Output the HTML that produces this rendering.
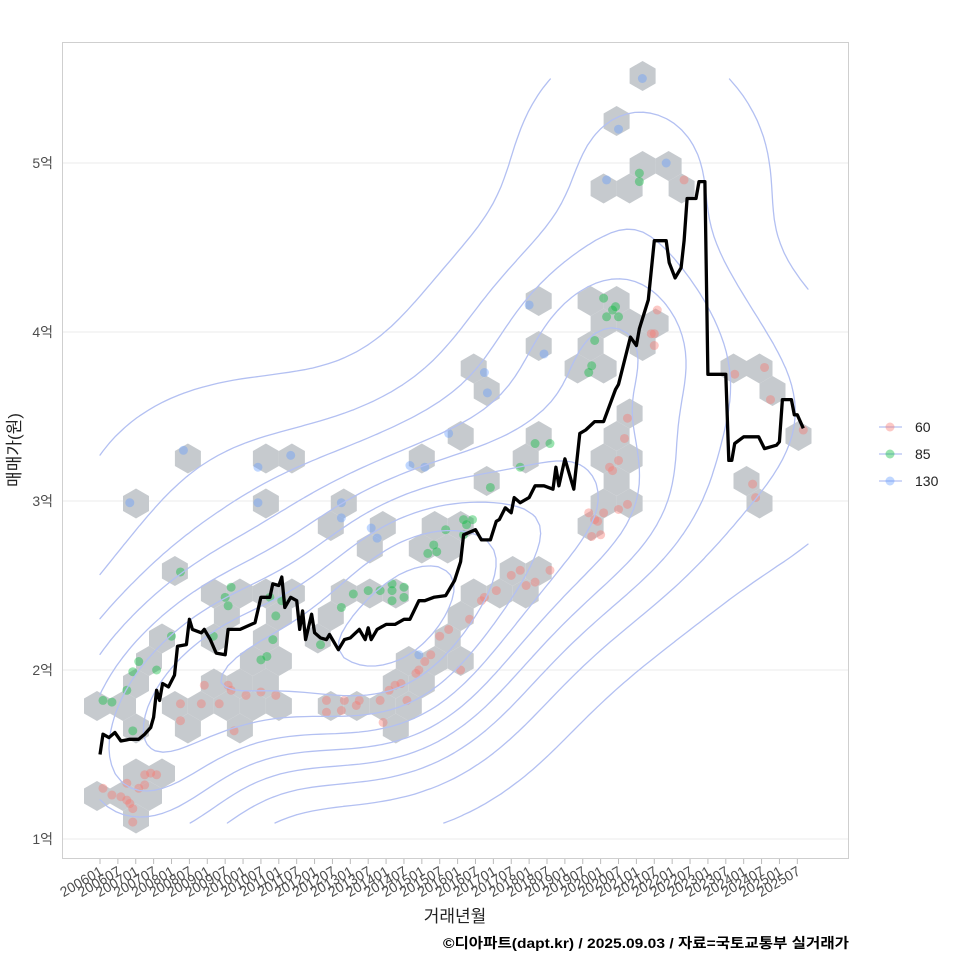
<!DOCTYPE html>
<html><head><meta charset="utf-8">
<style>
body{margin:0;background:#fff;}
svg text{font-family:"Liberation Sans","Noto Sans CJK KR",sans-serif;}
</style></head>
<body>
<svg id="chart" width="960" height="960" xmlns="http://www.w3.org/2000/svg">
<rect x="0" y="0" width="960" height="960" fill="#fff"/>
<rect x="62.5" y="42.5" width="786" height="816" fill="#fff" stroke="#cfcfcf"/>
<g id="grid"></g>
<g id="hexes"></g>
<g id="pts"></g>
<g id="contours"></g>
<g id="line"></g>
<g id="yaxis"></g>
<g id="xaxis"></g>
<text x="20" y="450" transform="rotate(-90 20 450)" text-anchor="middle" font-size="17" fill="#222">매매가(원)</text>
<text x="455" y="922" text-anchor="middle" font-size="17" fill="#222">거래년월</text>
<text x="849" y="948" text-anchor="end" font-size="14" font-weight="bold" fill="#000" textLength="406" lengthAdjust="spacingAndGlyphs">©디아파트(dapt.kr) / 2025.09.03 / 자료=국토교통부 실거래가</text>
<g id="legend"></g>
</svg>
<script>
// ---- data (x = months since 2006-01, y = price in 억) ----
const lineMonths=[0,1,3,5,7,10,13,15,17,18,19,20,21,23,25,26,29,30,31,34,35,37,39,42,43,47,52,54,57,58,60,61,62,64,66,67,68,69,71,72,74,76,77,80,82,84,87,89,90,91,93,96,99,102,104,107,109,112,116,119,121,122,126,128,131,133,134,136,138,139,141,144,146,149,152,153,154,156,159,161,163,166,169,173,174,178,180,181,184,186,190,191,193,195,196,197,200,201,203,204,210,211,212,213,216,221,223,227,228,229,232,233,234,236];
const lineValues=[1.50,1.62,1.60,1.63,1.58,1.59,1.59,1.62,1.66,1.72,1.88,1.82,1.92,1.90,1.97,2.14,2.15,2.30,2.24,2.22,2.24,2.18,2.10,2.09,2.24,2.24,2.28,2.43,2.43,2.51,2.50,2.55,2.37,2.43,2.41,2.24,2.35,2.18,2.33,2.22,2.19,2.18,2.21,2.12,2.18,2.19,2.24,2.18,2.25,2.18,2.24,2.27,2.27,2.30,2.30,2.41,2.41,2.43,2.44,2.53,2.64,2.80,2.83,2.77,2.77,2.88,2.89,2.96,2.93,3.02,2.99,3.02,3.09,3.09,3.07,3.20,3.09,3.25,3.07,3.40,3.42,3.47,3.47,3.66,3.69,3.97,3.92,4.02,4.19,4.54,4.54,4.41,4.32,4.38,4.54,4.79,4.79,4.89,4.89,3.75,3.75,3.24,3.24,3.34,3.38,3.38,3.31,3.33,3.35,3.60,3.60,3.51,3.51,3.43];
const p60Months=[1,4,7,9,9,10,11,11,13,15,17,19,15,27,27,34,35,40,43,44,45,49,54,59,76,76,81,82,86,87,94,95,97,99,101,103,106,107,109,111,114,117,121,124,128,129,133,138,141,143,146,151,164,166,167,165,168,169,171,172,174,176,177,174,177,185,186,187,186,196,213,219,220,223,236,225];
const p60Values=[1.30,1.26,1.25,1.33,1.23,1.21,1.10,1.18,1.30,1.38,1.39,1.38,1.32,1.80,1.70,1.80,1.91,1.80,1.91,1.88,1.64,1.85,1.87,1.85,1.82,1.75,1.76,1.82,1.79,1.82,1.82,1.69,1.88,1.91,1.92,1.82,1.98,2.00,2.05,2.09,2.20,2.24,2.00,2.30,2.41,2.43,2.47,2.56,2.59,2.50,2.52,2.59,2.93,2.89,2.88,2.79,2.80,2.93,3.20,3.18,3.24,3.37,3.49,2.95,2.98,3.99,3.99,4.13,3.92,4.90,3.75,3.10,3.02,3.79,3.42,3.60];
const p85Months=[1,4,9,11,11,13,19,24,27,38,42,43,44,54,56,58,57,61,59,74,81,85,90,94,98,98,98,102,102,110,112,113,116,122,123,122,125,131,141,146,151,164,165,166,169,170,172,173,174,181,181];
const p85Values=[1.82,1.81,1.88,1.99,1.64,2.05,2.00,2.20,2.58,2.20,2.43,2.38,2.49,2.06,2.08,2.18,2.43,2.41,2.32,2.15,2.37,2.45,2.47,2.47,2.51,2.47,2.41,2.49,2.43,2.69,2.74,2.70,2.83,2.89,2.86,2.80,2.89,3.08,3.20,3.34,3.34,3.76,3.80,3.95,4.20,4.09,4.13,4.15,4.09,4.89,4.94];
const p130Months=[10,28,53,53,64,81,81,91,93,104,109,117,129,130,144,149,170,174,182,190,107];
const p130Values=[2.99,3.30,3.20,2.99,3.27,2.99,2.90,2.84,2.78,3.21,3.20,3.40,3.76,3.64,4.16,3.87,4.90,5.20,5.50,5.00,2.09];
const yTicks=[1,2,3,4,5];
const yTickLabels=["1억","2억","3억","4억","5억"];
const xTickMonths=[];const xTickLabels=[];
for(let yr=2006;yr<=2025;yr++){for(const mo of [1,7]){xTickMonths.push((yr-2006)*12+mo-1);xTickLabels.push(yr+(mo===1?"01":"07"));}}
const legendLabels=["60","85","130"];
const legendColors=["#F8766D","#00BA38","#619CFF"];

// ---- scales ----
const NS="http://www.w3.org/2000/svg";
const xs=m=>100+m*2.98;
const ys=v=>839-(v-1)*169;
function mk(tag,attrs,parent){const e=document.createElementNS(NS,tag);for(const k in attrs)e.setAttribute(k,attrs[k]);parent.appendChild(e);return e;}
const $=id=>document.getElementById(id);

yTicks.forEach((v,i)=>{
  const g=mk('line',{x1:63,x2:848,y1:ys(v),y2:ys(v),stroke:'#ebebeb','stroke-width':1},$('grid'));
  
  
  const t=mk('text',{x:53,y:ys(v)+5,'text-anchor':'end','font-size':14,fill:'#4d4d4d'},$('yaxis'));
  t.textContent=yTickLabels[i];
  
  
});
xTickMonths.forEach((m,i)=>{
  const x=xs(m);
  const tk=mk('line',{x1:x,x2:x,y1:859,y2:864,stroke:'#bbb'},$('xaxis'));
  
  
  const t=mk('text',{x:x+4,y:874,'text-anchor':'end','font-size':14,fill:'#4d4d4d',transform:`rotate(-30 ${x+4} 874)`},$('xaxis'));
  t.textContent=xTickLabels[i];
  
  
});

const series=[[p60Months,p60Values,0],[p85Months,p85Values,1],[p130Months,p130Values,2]];
const allPx=[];
series.forEach(([ms,vs,c])=>ms.forEach((m,i)=>allPx.push([xs(m),ys(vs[i]),c])));

const R=15,HW=Math.sqrt(3)*R,HV=1.5*R,ox=97,oy=706;
const bins={};
allPx.forEach(([x,y])=>{
  let best=null,bd=1e9;
  const r0=Math.round((y-oy)/HV);
  for(let r=r0-1;r<=r0+1;r++){
    const off=(Math.abs(r)%2)*HW/2;
    const c0=Math.round((x-ox-off)/HW);
    for(let c=c0-1;c<=c0+1;c++){
      const cx=ox+off+c*HW,cy=oy+r*HV,d=(cx-x)**2+(cy-y)**2;
      if(d<bd){bd=d;best=[cx,cy];}
    }
  }
  const k=best[0].toFixed(1)+','+best[1].toFixed(1);
  bins[k]=(bins[k]||0)+1;
});
Object.keys(bins).forEach(k=>{
  const [cx,cy]=k.split(',').map(Number);
  let d='';
  for(let i=0;i<6;i++){const a=Math.PI/180*(60*i-90);d+=(i?'L':'M')+(cx+R*Math.cos(a)).toFixed(1)+','+(cy+R*Math.sin(a)).toFixed(1);}
  const h=mk('path',{d:d+'Z',fill:'#c3c7cb','fill-opacity':0.95},$('hexes'));
  
  
});

allPx.forEach(([x,y,c])=>{
  const p=mk('circle',{cx:x,cy:y,r:4.5,fill:legendColors[c],'fill-opacity':0.4},$('pts'));
  
  
});

(function(){
  const x0=100,x1=808,y0=79,y1=823,N=90,sx=74,sy=66;
  const G=[];let mx=0;
  for(let j=0;j<=N;j++){G.push([]);const y=y0+(y1-y0)*j/N;
    for(let i=0;i<=N;i++){const x=x0+(x1-x0)*i/N;let s=0;
      for(const p of allPx){s+=Math.exp(-0.5*(((p[0]-x)/sx)**2+((p[1]-y)/sy)**2));}
      G[j].push(s);if(s>mx)mx=s;}}
  const levels=[0.06,0.17,0.28,0.39,0.5,0.61,0.72,0.83,0.94].map(f=>f*mx);
  const dx=(x1-x0)/N,dy=(y1-y0)/N;
  let d='';
  for(const L of levels){
    for(let j=0;j<N;j++)for(let i=0;i<N;i++){
      const v=[G[j][i],G[j][i+1],G[j+1][i+1],G[j+1][i]];
      const c=[[x0+i*dx,y0+j*dy],[x0+(i+1)*dx,y0+j*dy],[x0+(i+1)*dx,y0+(j+1)*dy],[x0+i*dx,y0+(j+1)*dy]];
      const pts=[];
      for(let e=0;e<4;e++){const a=v[e],b=v[(e+1)%4];
        if((a<L)!==(b<L)){const t=(L-a)/(b-a);const A=c[e],B=c[(e+1)%4];pts.push([A[0]+t*(B[0]-A[0]),A[1]+t*(B[1]-A[1])]);}}
      for(let k=0;k+1<pts.length;k+=2)d+=`M${pts[k][0].toFixed(1)},${pts[k][1].toFixed(1)}L${pts[k+1][0].toFixed(1)},${pts[k+1][1].toFixed(1)}`;
    }
  }
  const p=mk('path',{d:d,fill:'none',stroke:'#b3c0f2','stroke-width':1.3,'stroke-linecap':'round'},$('contours'));
  
  
})();

const ld=lineMonths.map((m,i)=>(i?'L':'M')+xs(m).toFixed(1)+','+ys(lineValues[i]).toFixed(1)).join('');
const lp=mk('path',{d:ld,fill:'none',stroke:'#000','stroke-width':3.3,'stroke-linejoin':'round'},$('line'));



legendLabels.forEach((lab,i)=>{
  const y=427+i*27;
  const g=mk('g',{},$('legend'));
  
  
  mk('line',{x1:879,x2:902,y1:y,y2:y,stroke:'#b3c0f2','stroke-width':1.3},g);
  mk('circle',{cx:890,cy:y,r:4.5,fill:legendColors[i],'fill-opacity':0.4},g);
  const t=mk('text',{x:915,y:y+5,'font-size':14,fill:'#222'},g);
  t.textContent=lab;
});
</script>
</body></html>
